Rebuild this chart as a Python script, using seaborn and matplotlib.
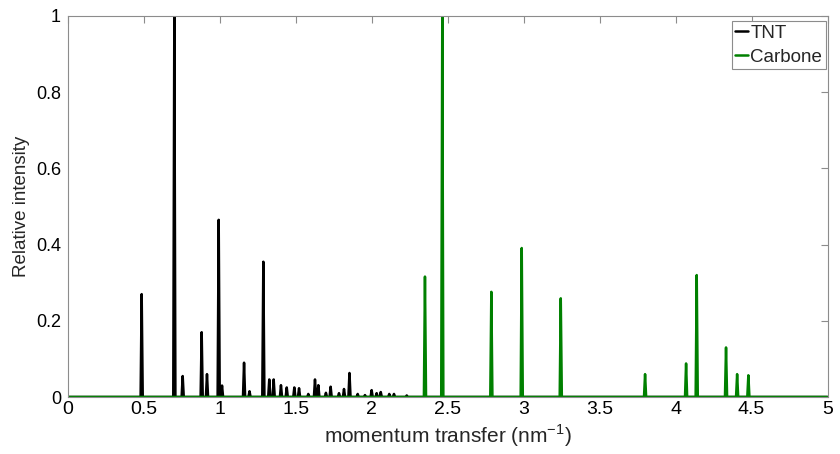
import matplotlib
matplotlib.use('Agg')
import matplotlib.pyplot as plt
import matplotlib.ticker as mticker
import pandas as pd
import seaborn as sb

# peak positions (nm^-1) and relative heights
tnt_q = [0.485, 0.700, 0.755, 0.880, 0.915, 0.992, 1.014, 1.159, 1.195,
         1.286, 1.325, 1.354, 1.402, 1.440, 1.490, 1.521, 1.582, 1.626,
         1.648, 1.698, 1.729, 1.784, 1.817, 1.853, 1.907, 1.955, 1.999,
         2.032, 2.059, 2.115, 2.146, 2.230]
tnt_i = [0.27, 1.00, 0.055, 0.17, 0.06, 0.465, 0.03, 0.09, 0.015,
         0.355, 0.046, 0.046, 0.031, 0.025, 0.025, 0.023, 0.008, 0.046,
         0.031, 0.011, 0.027, 0.010, 0.021, 0.063, 0.008, 0.005, 0.018,
         0.010, 0.013, 0.008, 0.008, 0.004]

carbone_q = [2.350, 2.464, 2.787, 2.987, 3.244, 3.799, 4.069, 4.139,
             4.332, 4.405, 4.479]
carbone_i = [0.316, 1.00, 0.276, 0.391, 0.259, 0.06, 0.088, 0.32,
             0.13, 0.06, 0.057]

series_names = ['TNT', 'Carbone']
series_colors = ['black', '#008000']
x_ticks = [0, 0.5, 1, 1.5, 2, 2.5, 3, 3.5, 4, 4.5, 5]
y_ticks = [0, 0.2, 0.4, 0.6, 0.8, 1]

# half width of each drawn peak
half_w = 0.007


def spectrum(name, qs, ints):
    # baseline from 0 to 5 with a narrow spike at every peak
    xs = [0.0]
    ys = [0.0]
    for q, h in zip(qs, ints):
        xs += [q - half_w, q, q + half_w]
        ys += [0.0, h, 0.0]
    xs.append(5.0)
    ys.append(0.0)
    return pd.DataFrame({'q': xs, 'intensity': ys, 'sample': name})


df = pd.concat([spectrum('TNT', tnt_q, tnt_i),
                spectrum('Carbone', carbone_q, carbone_i)],
               ignore_index=True)

sb.set_style('white')
plt.rcParams['font.family'] = ['Liberation Sans', 'DejaVu Sans']

fig = plt.figure(figsize=(8.4, 4.54), dpi=100)
ax = fig.add_axes([68 / 840, 1 - 397 / 454, 759.5 / 840, 381 / 454])

sb.lineplot(data=df, x='q', y='intensity', hue='sample',
            hue_order=series_names, palette=series_colors,
            estimator=None, sort=False, linewidth=1.8, ax=ax)

ax.set_xlim(0, 5)
ax.set_ylim(0, 1)
ax.set_xticks(x_ticks)
ax.set_yticks(y_ticks)
fmt = mticker.FormatStrFormatter('%g')
ax.xaxis.set_major_formatter(fmt)
ax.yaxis.set_major_formatter(fmt)

for s in ax.spines.values():
    s.set_visible(True)
    s.set_color('#8c8c8c')
    s.set_linewidth(0.8)
ax.tick_params(direction='in', length=5, width=0.8, color='#8c8c8c',
               top=True, right=True, labelsize=13, labelcolor='black')
ax.tick_params(axis='x', labelsize=14, pad=3)
ax.tick_params(axis='y', pad=5)

ax.set_xlabel(r'momentum transfer (nm$^{\mathregular{-1}}$)', fontsize=15,
              labelpad=3)
ax.set_ylabel('Relative intensity', fontsize=13.5, labelpad=4)

leg = ax.legend(loc='upper right', bbox_to_anchor=(0.998, 0.987),
                borderaxespad=0, fontsize=13.5, frameon=True, fancybox=False,
                handlelength=0.7, handletextpad=0.1, borderpad=0.2,
                labelspacing=0.35, edgecolor='#8c8c8c', framealpha=1)
leg.get_frame().set_linewidth(0.8)

fig.savefig('out.png', dpi=100)
